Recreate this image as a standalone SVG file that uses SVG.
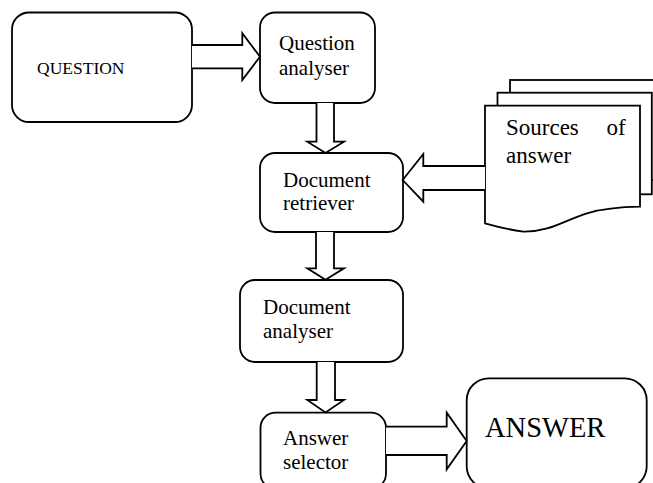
<svg xmlns="http://www.w3.org/2000/svg" width="653" height="483" viewBox="0 0 653 483">
<style>
.box{fill:#fff;stroke:#000;stroke-width:1.8}
.arr{fill:#fff;stroke:#000;stroke-width:1.8;stroke-linejoin:miter}
text{font-family:"Liberation Serif","Times New Roman",serif;fill:#000}
.t{font-size:21px}
</style>
<rect width="653" height="483" fill="#fff"/>
<g id="question"><rect class="box" x="12" y="12.5" width="180" height="109.5" rx="17"/><text x="37" y="74" font-size="17.5">QUESTION</text></g>
<g id="question-analyser"><rect class="box" x="260" y="12.5" width="115" height="90.5" rx="15"/><text class="t" x="279" y="50">Question</text><text class="t" x="279" y="75">analyser</text></g>
<g id="document-retriever"><rect class="box" x="260" y="153" width="143" height="79" rx="15"/><text class="t" x="283" y="187">Document</text><text class="t" x="283" y="210">retriever</text></g>
<g id="document-analyser"><rect class="box" x="240" y="280" width="163" height="82" rx="15"/><text class="t" x="263" y="313.5">Document</text><text class="t" x="263" y="337.5">analyser</text></g>
<g id="answer-selector"><rect class="box" x="260.5" y="412.7" width="125.5" height="76" rx="15"/><text class="t" x="283" y="445">Answer</text><text class="t" x="283" y="468.5">selector</text></g>
<g id="answer"><rect class="box" x="466.7" y="378.3" width="180" height="110" rx="22"/><text x="485" y="436.7" font-size="28.5">ANSWER</text></g>
<g id="sources">
<rect class="box" x="510" y="80" width="160" height="100"/>
<rect class="box" x="497.5" y="92.7" width="154.3" height="101.6"/>
<path class="box" d="M485,105.7 H640 V206.7 C620,207 605,208 587,213.3 C565,220 550,232 523.3,231.7 Q505,229 485,223.3 Z"/>
<text font-size="23"><tspan x="506" y="135">Sources</tspan><tspan x="606.5" y="135">of</tspan><tspan x="506" y="163">answer</tspan></text>
</g>
<g id="connectors">
<path class="arr" d="M192,45 H242.3 V33.3 L260,56.7 L242.3,80 V68.3 H192"/>
<path class="arr" d="M316.5,103 V141.7 H307.3 L325.5,153 L344,141.7 H334 V103"/>
<path class="arr" d="M316,232 V268.3 H307.3 L325.5,279.8 L344,268.3 H334 V232"/>
<path class="arr" d="M316.7,362 V400 H307.3 L325.5,412.5 L344,400 H335 V362"/>
<path class="arr" d="M485,166 H423.3 V154 L402.7,180 L423.3,201.7 V190 H485"/>
<path class="arr" d="M386,426.7 H446.7 V412.7 L466.7,441 L446.7,469.3 V455 H386"/>
</g>
</svg>
